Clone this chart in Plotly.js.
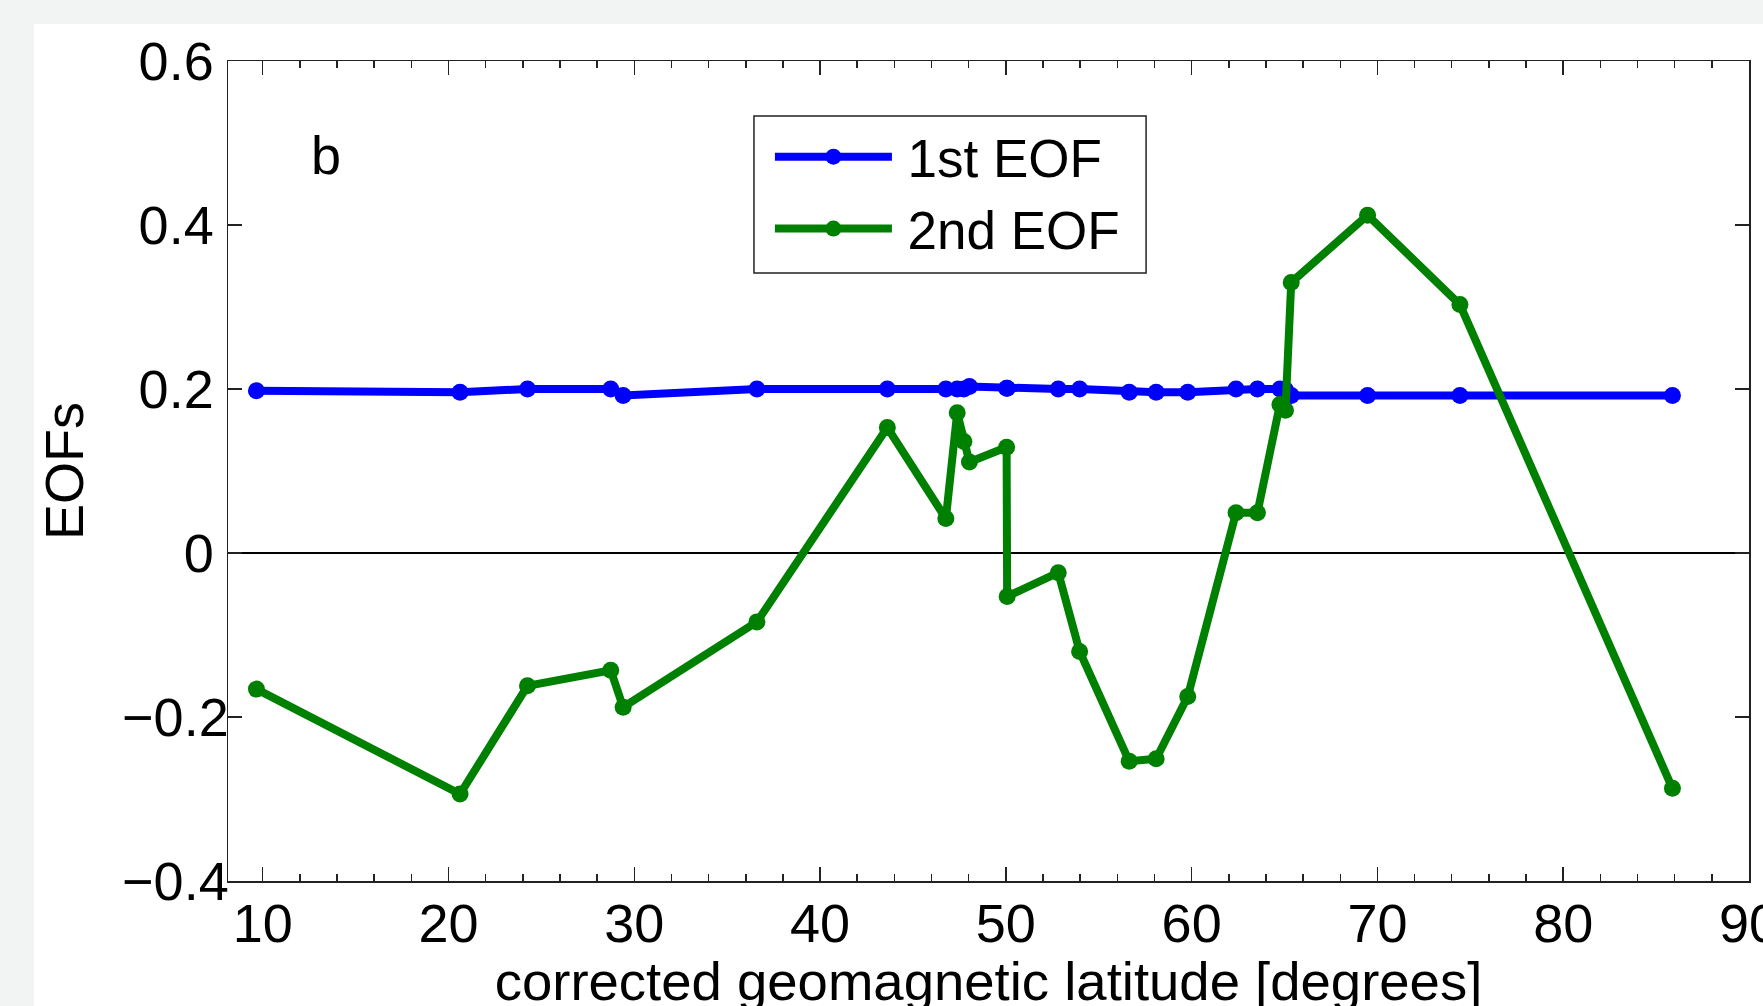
<!DOCTYPE html>
<html>
<head>
<meta charset="utf-8">
<script src="https://cdn.plot.ly/plotly-3.0.1.min.js"></script>
<style>
  html, body { margin: 0; padding: 0; background: #f2f3f3; width: 1763px; height: 1006px; overflow: hidden; }
  #chart { position: absolute; left: 34px; top: 24px; width: 1729px; height: 988px; background: #ffffff; }
</style>
</head>
<body>
<div id="chart"></div>
<script>
// corrected geomagnetic latitude of the stations [degrees]
const latitude = [9.66, 20.62, 24.25, 28.73, 29.40, 36.60, 43.62, 46.77, 47.38, 47.74, 48.04,
                  50.04, 50.07, 52.82, 53.97, 56.64, 58.09, 59.79, 62.39, 63.54, 64.75, 65.05,
                  65.36, 69.47, 74.44, 85.88];
// 1st EOF values
const eof1 = [0.198, 0.196, 0.200, 0.200, 0.192, 0.200, 0.200, 0.200, 0.200, 0.200, 0.203,
              0.201, 0.201, 0.200, 0.200, 0.196, 0.196, 0.196, 0.200, 0.200, 0.200, 0.199,
              0.192, 0.192, 0.192, 0.192];
// 2nd EOF values
const eof2 = [-0.166, -0.294, -0.162, -0.143, -0.188, -0.084, 0.153, 0.042, 0.171, 0.136, 0.111,
              0.129, -0.053, -0.024, -0.120, -0.254, -0.251, -0.175, 0.049, 0.049, 0.181, 0.174,
              0.330, 0.412, 0.303, -0.287];

// y-axis ticks (MATLAB-style: negative labels sit closer to the axis)
const yTickVals = [-0.4, -0.2, 0, 0.2, 0.4, 0.6];
const yTickText = ['\u22120.4', '\u22120.2', '0\u00a0', '0.2\u00a0', '0.4\u00a0', '0.6\u00a0'];

const seriesNames = ['1st EOF', '2nd EOF'];
const panelLabel = 'b';
const xTitle = 'corrected geomagnetic latitude [degrees]';
const yTitle = 'EOFs';

const FONT = 'Liberation Sans, Arial, Helvetica, sans-serif';
const AX = '#222222';

const traces = [
  {
    x: latitude, y: eof1, name: '\u2009' + seriesNames[0], type: 'scatter', mode: 'lines+markers',
    line: { color: '#0000ff', width: 8 },
    marker: { color: '#0000ff', size: 17 }
  },
  {
    x: latitude, y: eof2, name: '\u2009' + seriesNames[1], type: 'scatter', mode: 'lines+markers',
    line: { color: '#008000', width: 8 },
    marker: { color: '#008000', size: 17 }
  }
];

const layout = {
  width: 1729, height: 988,
  margin: { l: 194, r: 14, t: 37, b: 131 },
  paper_bgcolor: '#ffffff', plot_bgcolor: '#ffffff',
  font: { family: FONT, size: 54, color: '#000' },
  showlegend: true,
  legend: {
    x: 0.3563, y: 0.9333, xanchor: 'left', yanchor: 'top',
    bgcolor: 'rgba(0,0,0,0)', borderwidth: 0,
    font: { family: FONT, size: 53, color: '#000' },
    itemwidth: 117
  },
  shapes: [
    { type: 'rect', xref: 'paper', yref: 'paper', x0: 0.3458, x1: 0.6036, y0: 0.7415, y1: 0.9329,
      line: { color: AX, width: 1.5 }, fillcolor: '#ffffff', layer: 'above' }
  ],
  xaxis: {
    range: [8.13, 90.001], tick0: 10, dtick: 10,
    ticks: 'inside', ticklen: 14, tickwidth: 1.5, tickcolor: AX,
    showline: true, linecolor: AX, linewidth: 1.5, mirror: 'ticks',
    showgrid: false, zeroline: false,
    minor: { ticks: 'inside', ticklen: 7, dtick: 2, tick0: 10, tickwidth: 1.5, tickcolor: AX, showgrid: false },
    tickfont: { family: FONT, size: 54, color: '#000' },
    ticklabelstandoff: -5,
    ticklabeloverflow: 'allow',
    title: { text: xTitle, font: { family: FONT, size: 54.5, color: '#000' }, standoff: 19 }
  },
  yaxis: {
    range: [-0.4, 0.6], tickmode: 'array', tickvals: yTickVals, ticktext: yTickText,
    ticks: 'inside', ticklen: 14, tickwidth: 1.5, tickcolor: AX,
    showline: true, linecolor: AX, linewidth: 1.5, mirror: 'ticks',
    showgrid: false, zeroline: true, zerolinecolor: '#000', zerolinewidth: 1.2,
    tickfont: { family: FONT, size: 54, color: '#000' },
    ticklabelstandoff: -13,
    ticklabeloverflow: 'allow',
    title: { text: yTitle, font: { family: FONT, size: 54, color: '#000' }, standoff: 33 }
  },
  annotations: [
    { x: 13.41, y: 0.485, xref: 'x', yref: 'y', text: panelLabel, showarrow: false,
      xanchor: 'center', yanchor: 'middle', font: { family: FONT, size: 54, color: '#000' } }
  ]
};

Plotly.newPlot('chart', traces, layout, { displayModeBar: false, staticPlot: true });
</script>
</body>
</html>
